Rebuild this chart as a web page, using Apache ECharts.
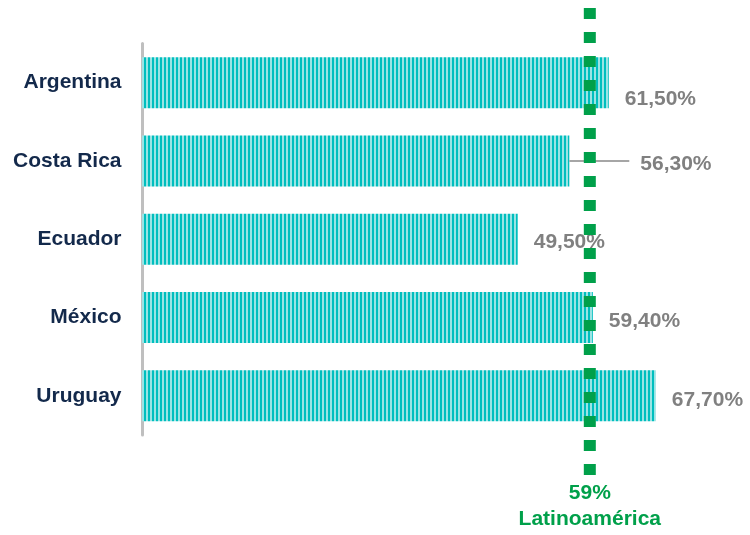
<!DOCTYPE html>
<html>
<head>
<meta charset="utf-8">
<script src="https://cdn.jsdelivr.net/npm/echarts@6/dist/echarts.min.js"></script>
<style>
html,body{margin:0;padding:0;background:#fff;}
#chart{width:750px;height:535px;}
</style>
</head>
<body>
<div id="chart"></div>
<script>
var categories = ['Argentina', 'Costa Rica', 'Ecuador', 'México', 'Uruguay'];
var values = [61.5, 56.3, 49.5, 59.4, 67.7];
var averageValue = 59;
var averageName = 'Latinoamérica';

var xMax = 80;

function fmt(v) { return v.toFixed(2).replace('.', ',') + '%'; }

// stripe pattern for bars
var pc = document.createElement('canvas');
pc.width = 4; pc.height = 1;
var pctx = pc.getContext('2d');
pctx.fillStyle = '#00BEBE'; pctx.fillRect(0, 0, 2, 1);
pctx.fillStyle = '#9BE4E4'; pctx.fillRect(2, 0, 2, 1);

var chart = echarts.init(document.getElementById('chart'), null, {renderer: 'canvas'});

var labelDy = [17, 3, 3, 4, 4];
var labelDx = [0, 55, 0, 0, 0];
var leaderIndex = 1;
var leaderLength = 7.9; // leader line length in axis units

var option = {
  animation: false,
  grid: [
    {left: 142, width: 607.2, top: 43.5, height: 391.5},
    {left: 142, width: 607.2, top: 8, height: 467}
  ],
  xAxis: [
    {gridIndex: 0, type: 'value', min: 0, max: xMax, show: false},
    {gridIndex: 1, type: 'value', min: 0, max: xMax, show: false}
  ],
  yAxis: [
    {
      gridIndex: 0, type: 'category', data: categories, inverse: true,
      offset: 2.5,
      axisLine: {show: true, lineStyle: {color: '#BFBFBF', width: 3}},
      axisTick: {show: false},
      axisLabel: {margin: 18, color: '#13294B', fontFamily: 'Liberation Sans, Arial, sans-serif', fontWeight: 'bold', fontSize: 21}
    },
    {gridIndex: 1, type: 'value', min: 0, max: 1, show: false}
  ],
  series: [
    {
      type: 'bar',
      xAxisIndex: 0, yAxisIndex: 0,
      data: values,
      barWidth: 51,
      itemStyle: {color: {image: pc, repeat: 'repeat'}},
      label: {
        show: true, position: 'right', distance: 16,
        color: '#808080', fontFamily: 'Liberation Sans, Arial, sans-serif', fontWeight: 'bold', fontSize: 21,
        formatter: function (p) { return fmt(p.value); }
      },
      labelLayout: function (p) {
        return {dx: labelDx[p.dataIndex], dy: labelDy[p.dataIndex]};
      },
      markLine: {
        silent: true,
        symbol: 'none',
        label: {show: false},
        lineStyle: {color: '#A6A6A6', width: 2, type: 'solid'},
        data: [[
          {coord: [values[leaderIndex], categories[leaderIndex]]},
          {coord: [values[leaderIndex] + leaderLength, categories[leaderIndex]]}
        ]]
      },
      z: 2
    },
    {
      type: 'line',
      xAxisIndex: 1, yAxisIndex: 1,
      data: [
        {value: [averageValue, 1]},
        {value: [averageValue, 0], label: {
          show: true, position: 'bottom', distance: 5,
          formatter: function () { return averageValue + '%\n' + averageName; },
          color: '#00A04A', fontFamily: 'Liberation Sans, Arial, sans-serif', fontWeight: 'bold', fontSize: 21, lineHeight: 26
        }}
      ],
      symbol: 'rect', symbolSize: 1, showSymbol: true,
      itemStyle: {color: 'rgba(0,0,0,0)'},
      lineStyle: {color: '#00A04A', width: 12, type: [11, 13], cap: 'butt'},
      z: 5
    }
  ]
};
chart.setOption(option);
</script>
</body>
</html>
